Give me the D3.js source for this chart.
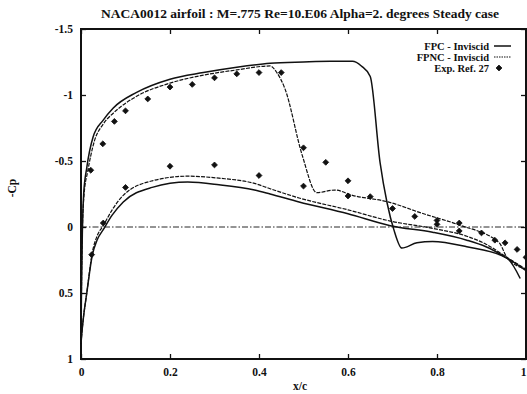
<!DOCTYPE html>
<html>
<head>
<meta charset="utf-8">
<script src="https://cdn.jsdelivr.net/npm/d3@7"></script>
<style>
  html, body { margin: 0; padding: 0; background: #fff; }
  svg { display: block; }
  text { font-family: "Liberation Serif", "DejaVu Serif", serif; font-weight: bold; fill: #111; }
</style>
</head>
<body>
<svg id="chart" width="527" height="394"></svg>
<script>
// FPC - Inviscid, upper surface (with shock near x/c=0.67)
const fpcUpperX = [0, 0.001, 0.003, 0.006, 0.013, 0.027, 0.05, 0.072, 0.125, 0.2, 0.275, 0.35, 0.425, 0.5, 0.56, 0.61, 0.63, 0.65, 0.672, 0.688, 0.703, 0.721, 0.755, 0.79, 0.867, 0.957, 0.987];
const fpcUpperY = [0.88, 0.5, 0.05, -0.25, -0.45, -0.68, -0.81, -0.9, -1.02, -1.12, -1.17, -1.21, -1.24, -1.25, -1.255, -1.255, -1.22, -1.14, -0.49, -0.18, 0.02, 0.16, 0.12, 0.11, 0.15, 0.235, 0.39];
// FPC - Inviscid, lower surface
const fpcLowerX = [0, 0.002, 0.005, 0.013, 0.025, 0.036, 0.05, 0.07, 0.095, 0.16, 0.24, 0.31, 0.39, 0.425, 0.49, 0.6, 0.695, 0.79, 0.867, 0.91, 0.957, 1.0];
const fpcLowerY = [0.88, 0.8, 0.7, 0.5, 0.22, 0.1, 0.02, -0.09, -0.19, -0.3, -0.34, -0.32, -0.28, -0.25, -0.19, -0.1, -0.01, 0.04, 0.1, 0.15, 0.235, 0.33];
// FPNC - Inviscid, upper surface
const fpncUpperX = [0, 0.001, 0.003, 0.007, 0.015, 0.03, 0.05, 0.075, 0.125, 0.2, 0.275, 0.35, 0.425, 0.44, 0.458, 0.497, 0.53, 0.57, 0.61, 0.69, 0.77, 0.85, 0.94, 0.957, 1.0];
const fpncUpperY = [0.88, 0.5, 0.05, -0.25, -0.42, -0.65, -0.78, -0.87, -0.99, -1.09, -1.15, -1.19, -1.22, -1.17, -1.05, -0.545, -0.26, -0.28, -0.24, -0.19, -0.1, -0.015, 0.12, 0.23, 0.32];
// FPNC - Inviscid, lower surface
const fpncLowerX = [0, 0.002, 0.005, 0.013, 0.025, 0.036, 0.05, 0.07, 0.095, 0.16, 0.24, 0.31, 0.39, 0.425, 0.49, 0.6, 0.695, 0.79, 0.867, 0.91, 0.957, 1.0];
const fpncLowerY = [0.88, 0.8, 0.7, 0.5, 0.2, 0.07, -0.01, -0.13, -0.24, -0.35, -0.385, -0.37, -0.33, -0.29, -0.22, -0.13, -0.045, 0.01, 0.07, 0.13, 0.23, 0.32];
// Exp. Ref. 27
const expX = [0.022, 0.049, 0.075, 0.10, 0.15, 0.20, 0.25, 0.30, 0.35, 0.40, 0.45, 0.50, 0.55, 0.60, 0.65, 0.70, 0.75, 0.80, 0.80, 0.85, 0.85, 0.90, 0.93, 0.953, 0.98, 1.0,
              0.024, 0.05, 0.10, 0.20, 0.30, 0.40, 0.50, 0.60];
const expY = [-0.43, -0.63, -0.8, -0.88, -0.97, -1.06, -1.08, -1.13, -1.16, -1.17, -1.17, -0.6, -0.49, -0.35, -0.23, -0.14, -0.08, -0.05, -0.02, -0.03, 0.03, 0.045, 0.1, 0.12, 0.17, 0.23,
              0.21, -0.03, -0.3, -0.46, -0.47, -0.39, -0.31, -0.235];

const xTicks = [0, 0.2, 0.4, 0.6, 0.8, 1];
const yTicks = [-1.5, -1, -0.5, 0, 0.5, 1];
const legendLabels = ["FPC - Inviscid", "FPNC - Inviscid", "Exp. Ref. 27"];

const MARGIN = { top: 29, right: 1, bottom: 35, left: 81 };
const WIDTH = 527 - MARGIN.left - MARGIN.right;
const HEIGHT = 394 - MARGIN.top - MARGIN.bottom;
const INK = "#111";

const svg = d3.select("#chart");
const g = svg.append("g").attr("transform", `translate(${MARGIN.left},${MARGIN.top})`);

const x = d3.scaleLinear().domain([0, 1]).range([0, WIDTH]);
const y = d3.scaleLinear().domain([-1.5, 1]).range([0, HEIGHT]);

// Title
svg.append("text")
  .attr("x", 300).attr("y", 18)
  .attr("text-anchor", "middle")
  .attr("font-size", 13.5)
  .text("NACA0012 airfoil : M=.775 Re=10.E06 Alpha=2. degrees Steady case");

// Axes (ticks pointing inward, labels outside)
const fmt = d => String(d);
const xAxis = g.append("g").attr("transform", `translate(0,${HEIGHT})`)
  .call(d3.axisBottom(x).tickValues(xTicks).tickSize(-5).tickPadding(9).tickFormat(fmt));
const yAxis = g.append("g")
  .call(d3.axisLeft(y).tickValues(yTicks).tickSize(-5).tickPadding(8).tickFormat(fmt));
const xTop = g.append("g").call(d3.axisTop(x).tickValues(xTicks).tickSize(-5).tickFormat(""));
const yRight = g.append("g").attr("transform", `translate(${WIDTH},0)`)
  .call(d3.axisRight(y).tickValues(yTicks).tickSize(-5).tickFormat(""));
[xAxis, yAxis, xTop, yRight].forEach(a => {
  a.select(".domain").remove();
  a.selectAll("line").attr("stroke", INK).attr("stroke-width", 1.3);
  a.selectAll("text").attr("font-size", 11.5).attr("fill", INK)
    .style("font-family", '"Liberation Serif", "DejaVu Serif", serif').style("font-weight", "bold");
});
// the "1" at the right end sits against the page edge
xAxis.selectAll(".tick text").filter(d => d === 1).attr("text-anchor", "end");

// Frame
g.append("rect")
  .attr("x", 0).attr("y", 0).attr("width", WIDTH).attr("height", HEIGHT)
  .attr("fill", "none").attr("stroke", INK).attr("stroke-width", 2);

// Axis titles
svg.append("text")
  .attr("x", 300).attr("y", 390)
  .attr("text-anchor", "middle").attr("font-size", 11.5)
  .text("x/c");
svg.append("text")
  .attr("transform", "translate(16,188) rotate(-90)")
  .attr("text-anchor", "middle").attr("font-size", 11.5)
  .text("-Cp");

// Zero line
g.append("line")
  .attr("x1", 0).attr("x2", WIDTH).attr("y1", y(0)).attr("y2", y(0))
  .attr("stroke", INK).attr("stroke-width", 0.9)
  .attr("stroke-dasharray", "6,2,1.5,2");

const line = d3.line().x(d => x(d[0])).y(d => y(d[1])).curve(d3.curveMonotoneX);
const zip = (xs, ys) => xs.map((v, i) => [v, ys[i]]);

const curves = [
  { pts: zip(fpcUpperX, fpcUpperY), dash: null },
  { pts: zip(fpcLowerX, fpcLowerY), dash: null },
  { pts: zip(fpncUpperX, fpncUpperY), dash: "4,1.2" },
  { pts: zip(fpncLowerX, fpncLowerY), dash: "4,1.2" }
];
const plot = g.append("g");
plot.selectAll("path.curve").data(curves).join("path")
  .attr("class", "curve")
  .attr("d", d => line(d.pts))
  .attr("fill", "none")
  .attr("stroke", INK)
  .attr("stroke-width", d => (d.dash ? 1.2 : 1.5))
  .attr("stroke-dasharray", d => d.dash);

// experimental points: small rotated squares (rounded diamonds)
const dot = d3.symbol().type(d3.symbolSquare).size(17);
plot.selectAll("path.pt").data(zip(expX, expY)).join("path")
  .attr("class", "pt")
  .attr("d", dot)
  .attr("transform", d => `translate(${x(d[0])},${y(d[1])}) rotate(45)`)
  .attr("fill", INK)
  .attr("stroke", INK)
  .attr("stroke-width", 0.8)
  .attr("stroke-linejoin", "round");

// Legend
const legend = svg.append("g").attr("transform", "translate(489,0)");
const rows = [46, 57, 68];
legend.selectAll("text").data(legendLabels).join("text")
  .attr("x", 0).attr("y", (d, i) => rows[i] + 3.5)
  .attr("text-anchor", "end").attr("font-size", 10.5)
  .text(d => d);
legend.append("line").attr("x1", 5).attr("x2", 22).attr("y1", rows[0]).attr("y2", rows[0])
  .attr("stroke", INK).attr("stroke-width", 1.5);
legend.append("line").attr("x1", 5).attr("x2", 22).attr("y1", rows[1]).attr("y2", rows[1])
  .attr("stroke", INK).attr("stroke-width", 1.2).attr("stroke-dasharray", "1.5,1");
legend.append("path").attr("d", dot).attr("transform", `translate(10,${rows[2]}) rotate(45)`)
  .attr("fill", INK).attr("stroke", INK).attr("stroke-width", 0.8);
</script>
</body>
</html>
